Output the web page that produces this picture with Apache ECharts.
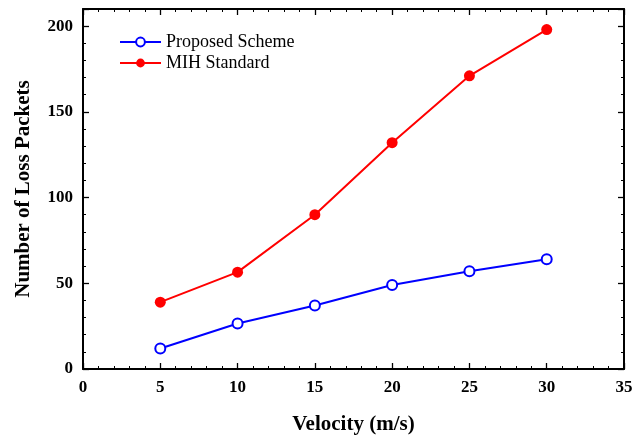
<!DOCTYPE html>
<html><head><meta charset="utf-8">
<script src="https://cdn.jsdelivr.net/npm/echarts@6/dist/echarts.min.js"></script>
<style>html,body{margin:0;padding:0;background:#fff}#c{width:633px;height:437px}</style>
</head><body><div id="c"></div>
<script>
const velocity = [5, 10, 15, 20, 25, 30];
const proposed = [12, 26.5, 37, 49, 57, 64];
const mih = [39, 56.5, 90, 132, 171, 198];
const xTicks = [0, 5, 10, 15, 20, 25, 30, 35];
const yTicks = [0, 50, 100, 150, 200];

const F = '"Liberation Serif", "Times New Roman", serif';
const chart = echarts.init(document.getElementById('c'));
const lineStyleAxis = {show: true, onZero: false, lineStyle: {color: '#000', width: 2}};
const tickStyle = {show: true, inside: true, length: 6, lineStyle: {color: '#000', width: 1.3}};
const minorStyle = {show: true, splitNumber: 5, length: 3, lineStyle: {color: '#000', width: 1}};
chart.setOption({
  animation: false,
  grid: {left: 83, right: 9, top: 9, bottom: 68, containLabel: false, outerBoundsMode: 'none'},
  legend: {
    left: 114, top: 28, orient: 'vertical', itemWidth: 41, itemHeight: 11, itemGap: 3,
    textStyle: {fontFamily: F, fontSize: 18, color: '#000'},
    data: ['Proposed Scheme', 'MIH Standard']
  },
  xAxis: [{
    type: 'value', min: 0, max: 35, interval: 5,
    name: 'Velocity (m/s)', nameLocation: 'middle', nameGap: 45,
    nameTextStyle: {fontFamily: F, fontSize: 21, fontWeight: 'bold', color: '#000'},
    axisLine: lineStyleAxis, axisTick: tickStyle, minorTick: minorStyle,
    axisLabel: {fontFamily: F, fontSize: 17, fontWeight: 'bold', color: '#000', margin: 10,
      formatter: v => xTicks.includes(v) ? String(v) : ''},
    splitLine: {show: false}
  }, {
    type: 'value', position: 'top', min: 0, max: 35, interval: 5,
    axisLine: lineStyleAxis, axisTick: tickStyle, minorTick: minorStyle,
    axisLabel: {show: false}, splitLine: {show: false}
  }],
  yAxis: [{
    type: 'value', min: 0, max: 210, interval: 50,
    name: 'Number of Loss Packets', nameLocation: 'middle', nameGap: 49,
    nameTextStyle: {fontFamily: F, fontSize: 21, fontWeight: 'bold', color: '#000'},
    axisLine: lineStyleAxis, axisTick: tickStyle, minorTick: minorStyle,
    axisLabel: {fontFamily: F, fontSize: 17, fontWeight: 'bold', color: '#000', margin: 10,
      formatter: v => yTicks.includes(v) ? String(v) : ''},
    splitLine: {show: false}
  }, {
    type: 'value', position: 'right', min: 0, max: 210, interval: 50,
    axisLine: lineStyleAxis, axisTick: tickStyle, minorTick: minorStyle,
    axisLabel: {show: false}, splitLine: {show: false}
  }],
  series: [{
    name: 'Proposed Scheme', type: 'line',
    data: velocity.map((v, i) => [v, proposed[i]]),
    symbol: 'emptyCircle', symbolSize: 10,
    lineStyle: {color: '#0000ff', width: 2},
    itemStyle: {color: '#0000ff', borderColor: '#0000ff', borderWidth: 2}
  }, {
    name: 'MIH Standard', type: 'line',
    data: velocity.map((v, i) => [v, mih[i]]),
    symbol: 'circle', symbolSize: 11,
    lineStyle: {color: '#ff0000', width: 2},
    itemStyle: {color: '#ff0000'}
  }]
});
</script></body></html>
